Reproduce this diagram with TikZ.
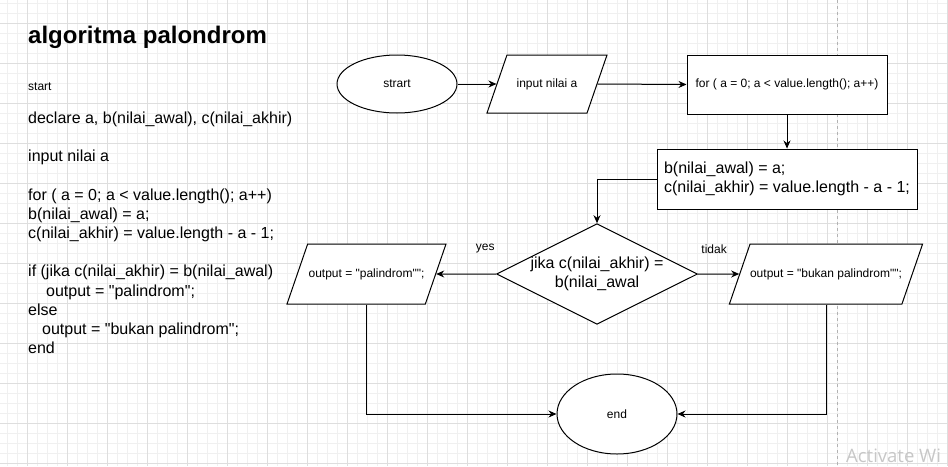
\documentclass[tikz,border=0pt]{standalone}
\usepackage{fontspec}
\setmainfont{Liberation Sans}[Ligatures=TeXOff]
\newfontfamily\wmfont{Open Sans}
\usetikzlibrary{shapes.geometric,arrows.meta}

\begin{document}
\begin{tikzpicture}[x=1pt, y=-1pt,
		minorgrid/.style={draw=black!6, line width=0.6pt},
		majorgrid/.style={draw=black!13, line width=0.6pt},
		flow/.style={draw=black, line width=1pt, fill=white, font=\fontsize{12}{14.4}\selectfont, inner sep=0pt},
		terminal/.style={flow, ellipse},
		io/.style={flow, trapezium, trapezium left angle=71, trapezium right angle=109, trapezium stretches body=true, text height=9pt, text depth=3pt, inner ysep=24pt},
		process/.style={flow, rectangle},
		decision/.style={flow, diamond, aspect=2, align=center, font=\fontsize{16}{19.2}\selectfont},
		link/.style={draw=black, line width=1pt, -{Stealth[length=8pt, width=7pt]}},
		lbl/.style={font=\fontsize{12}{14.4}\selectfont, inner sep=0pt}]
		\clip (0,0) rectangle (948,466);
		\fill[white] (0,0) rectangle (948,466);
		\foreach \gx in {7,17,...,947} \draw[minorgrid] (\gx,0) -- (\gx,466);
		\foreach \gy in {3,13,...,463} \draw[minorgrid] (0,\gy) -- (948,\gy);
		\foreach \gx in {27,67,...,947} \draw[majorgrid] (\gx,0) -- (\gx,466);
		\foreach \gy in {23,63,...,463} \draw[majorgrid] (0,\gy) -- (948,\gy);
		\draw[black!30, line width=0.8pt, dash pattern=on 3pt off 3pt] (837,0) -- (837,466);
		
		\node[anchor=base west, inner sep=0pt, font=\fontsize{24}{28.8}\selectfont\bfseries] (title) at (28,43) {algoritma palondrom};
		\node[anchor=base west, inner sep=0pt, font=\fontsize{12}{14.4}\selectfont] (startline) at (28,90.7) {start};
		\node[anchor=north west, inner sep=0pt, align=left, font=\fontsize{16}{19.2}\selectfont] (pseudo) at (28,111.5) {
			declare a, b(nilai\_awal), c(nilai\_akhir)\\[19.2pt]
			input nilai a\\[19.2pt]
			for ( a = 0; a < value.length(); a++)\\
			b(nilai\_awal) = a;\\
			c(nilai\_akhir) = value.length - a - 1;\\[19.2pt]
			if (jika c(nilai\_akhir) = b(nilai\_awal)\\
			\hspace*{18pt}output = "palindrom";\\
			else\\
			\hspace*{14pt}output = "bukan palindrom";\\
			end
		};
		
		\node[terminal, minimum width=120pt, minimum height=58pt] (start) at (397,84) {strart};
		\node[io, minimum width=120pt, inner ysep=23pt] (input) at (547,84) {input nilai a};
		\node[process, minimum width=200pt, minimum height=59pt] (loop) at (787,84.5) {for ( a = 0; a < value.length(); a++)};
		\node[process, minimum width=260pt, minimum height=60pt, align=left, font=\fontsize{16}{19.2}\selectfont] (assign) at (787,179) {b(nilai\_awal) = a;\\ c(nilai\_akhir) = value.length - a - 1;};
		\node[decision] (check) at (597,274) {jika c(nilai\_akhir) =\\ b(nilai\_awal};
		\node[io, minimum width=159pt] (outyes) at (366.5,274) {output = "palindrom"";};
		\node[io, minimum width=180pt] (outno) at (826,274) {output = "bukan palindrom"";};
		\node[terminal, minimum width=120pt, minimum height=80pt] (stop) at (617,414) {end};
		
		\draw[link] (start.east) -- (input.west);
		\draw[link] (input.east) -- (loop.west);
		\draw[link] (loop.south) -- (assign.north);
		\draw[link] (assign.west) -| (check.north);
		\draw[link] (check.west) -- node[lbl, pos=0.18, yshift=25pt] (yeslbl) {yes} (outyes.east);
		\draw[link] (check.east) -- node[lbl, pos=0.39, yshift=25pt] (nolbl) {tidak} (outno.west);
		\draw[link] (outyes.south) |- (stop.west);
		\draw[link] (outno.south) |- (stop.east);
		
		\node[anchor=base west, inner sep=0pt, text=black!22, font=\wmfont\fontsize{18.5}{22.2}\selectfont] (watermark) at (846,462) {Activate Wi};
	\end{tikzpicture}
\end{document}
